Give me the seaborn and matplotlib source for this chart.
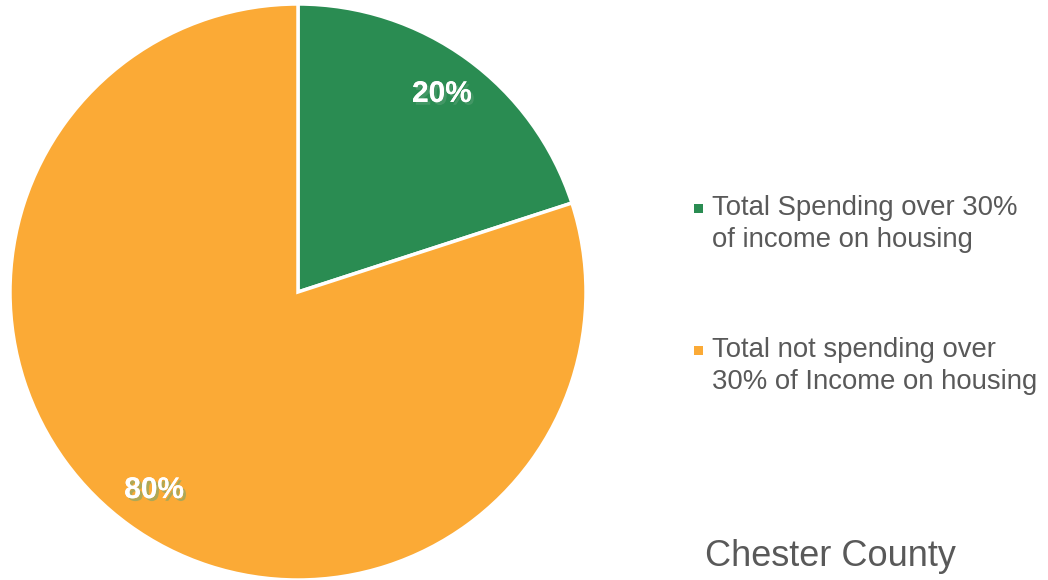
import matplotlib
matplotlib.use("Agg")
import matplotlib.pyplot as plt
import matplotlib.patheffects as pe
from matplotlib.patches import Rectangle
import seaborn as sns

sns.set_theme(style="white")
plt.rcParams['font.family'] = ['Liberation Sans', 'DejaVu Sans']

categories = ["Total Spending over 30%\nof income on housing",
              "Total not spending over\n30% of Income on housing"]
shares = [20, 80]
colors = ["#2A8C52", "#FBAA36"]
title = "Chester County"

W, H = 1048, 580
fig = plt.figure(figsize=(W / 100, H / 100), dpi=100)
ax = fig.add_axes([10 / W, 0.0, 576 / W, 576 / H])

wedges, texts, autotexts = ax.pie(
    shares, colors=colors, startangle=90, counterclock=False,
    autopct="%d%%", pctdistance=0.85,
    wedgeprops=dict(edgecolor="white", linewidth=2.5),
    textprops=dict(color="white", fontsize=21.5, fontweight="bold"),
)
for t, c in zip(autotexts, ["#4a9a6a", "#9aa860"]):
    t.set_path_effects([pe.withSimplePatchShadow(offset=(2, -2), shadow_rgbFace=c, alpha=0.8),
                        pe.Normal()])
ax.set_aspect("equal")
ax.set_xlim(-1, 1)
ax.set_ylim(-1, 1)
ax.axis("off")

# legend entries: square swatch beside the first line of each label
entry_y = [208, 350]
for label, color, y in zip(categories, colors, entry_y):
    fig.add_artist(Rectangle(((698 - 4.5) / W, 1 - (y + 4.5) / H), 9 / W, 9 / H,
                             transform=fig.transFigure, facecolor=color, edgecolor="none"))
    fig.text(712 / W, 1 - (y + 16) / H, label, fontsize=19.8, color="#595959",
             ha="left", va="center", linespacing=1.32)

fig.text(705 / W, 1 - 556 / H, title, fontsize=26, color="#595959",
         ha="left", va="center")

fig.savefig("out.png", dpi=100)
